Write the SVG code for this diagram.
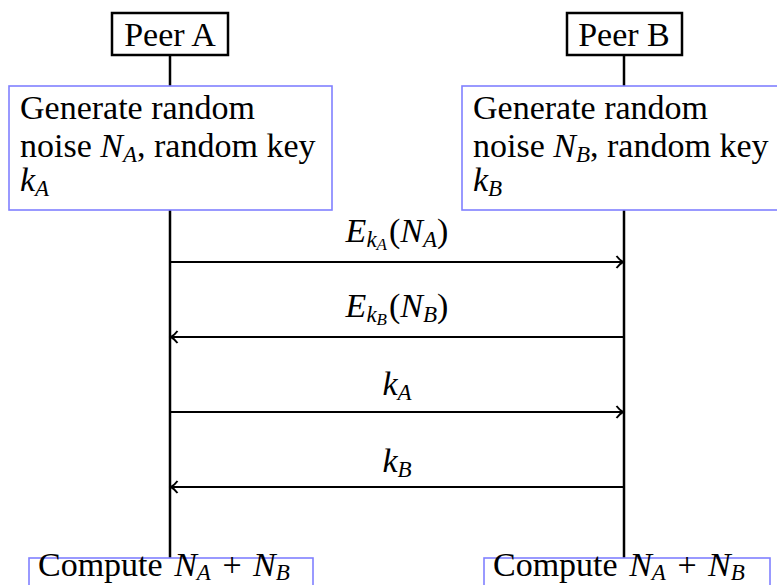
<svg xmlns="http://www.w3.org/2000/svg" width="777" height="585" viewBox="0 0 777 585" font-family="'Liberation Serif', 'DejaVu Serif', serif">
<style>
text{font-size:34px;fill:#000}
.i{font-style:italic}
.s{font-size:23px}
.ss{font-size:17px}
.peer{fill:#fff;stroke:#000;stroke-width:2.5}
.proc{fill:#fff;stroke:#8080ff;stroke-width:1.6}
.life{stroke:#000;stroke-width:2.5;fill:none}
.msg{stroke:#000;stroke-width:2;fill:none}
</style>
<defs>
<marker id="arr" markerWidth="14" markerHeight="16" refX="11" refY="8" orient="auto" markerUnits="userSpaceOnUse">
<path d="M4.5 2 Q8 6.5 11 8 Q8 9.5 4.5 14" fill="none" stroke="#000" stroke-width="2"/>
</marker>
</defs>
<g id="lifelines">
<line class="life" x1="170" y1="55" x2="170" y2="86"/>
<line class="life" x1="170" y1="210" x2="170" y2="558"/>
<line class="life" x1="624" y1="55" x2="624" y2="86"/>
<line class="life" x1="624" y1="210" x2="624" y2="558"/>
</g>
<g id="peerA">
<rect class="peer" x="112" y="13" width="116" height="42"/>
<text x="170" y="46" text-anchor="middle">Peer A</text>
</g>
<g id="peerB">
<rect class="peer" x="567" y="13" width="115" height="42"/>
<text x="624" y="46" text-anchor="middle">Peer B</text>
</g>
<g id="genA">
<rect class="proc" x="9" y="86" width="323" height="124"/>
<text x="20" y="119">Generate random</text>
<text x="20" y="157">noise <tspan class="i">N</tspan><tspan class="i s" dy="5">A</tspan><tspan dy="-5">, random key</tspan></text>
<text x="20" y="191"><tspan class="i">k</tspan><tspan class="i s" dy="5">A</tspan></text>
</g>
<g id="genB">
<rect class="proc" x="462" y="86" width="330" height="124"/>
<text x="473" y="119">Generate random</text>
<text x="473" y="157">noise <tspan class="i">N</tspan><tspan class="i s" dy="5">B</tspan><tspan dy="-5">, random key</tspan></text>
<text x="473" y="191"><tspan class="i">k</tspan><tspan class="i s" dy="5">B</tspan></text>
</g>
<g id="connectors">
<line class="msg" x1="170" y1="262" x2="623" y2="262" marker-end="url(#arr)"/>
<line class="msg" x1="624" y1="337" x2="171" y2="337" marker-end="url(#arr)"/>
<line class="msg" x1="170" y1="412" x2="623" y2="412" marker-end="url(#arr)"/>
<line class="msg" x1="624" y1="487" x2="171" y2="487" marker-end="url(#arr)"/>
<text x="397" y="242" text-anchor="middle"><tspan class="i">E</tspan><tspan class="i s" dy="5">k</tspan><tspan class="i ss" dy="3">A</tspan><tspan dx="2" dy="-8">(</tspan><tspan class="i">N</tspan><tspan class="i s" dy="5">A</tspan><tspan dy="-5">)</tspan></text>
<text x="397" y="317" text-anchor="middle"><tspan class="i">E</tspan><tspan class="i s" dy="5">k</tspan><tspan class="i ss" dy="3">B</tspan><tspan dx="2" dy="-8">(</tspan><tspan class="i">N</tspan><tspan class="i s" dy="5">B</tspan><tspan dy="-5">)</tspan></text>
<text x="397" y="395" text-anchor="middle"><tspan class="i">k</tspan><tspan class="i s" dy="5">A</tspan></text>
<text x="397" y="472" text-anchor="middle"><tspan class="i">k</tspan><tspan class="i s" dy="5">B</tspan></text>
</g>
<g id="computeA">
<rect class="proc" x="29" y="558" width="284" height="40"/>
<text x="38" y="576">Compute <tspan class="i" dx="3">N</tspan><tspan class="i s" dy="4">A</tspan><tspan dx="3" dy="-4"> + </tspan><tspan class="i" dx="3">N</tspan><tspan class="i s" dy="4">B</tspan></text>
</g>
<g id="computeB">
<rect class="proc" x="484" y="558" width="286" height="40"/>
<text x="493" y="576">Compute <tspan class="i" dx="3">N</tspan><tspan class="i s" dy="4">A</tspan><tspan dx="3" dy="-4"> + </tspan><tspan class="i" dx="3">N</tspan><tspan class="i s" dy="4">B</tspan></text>
</g>
</svg>
